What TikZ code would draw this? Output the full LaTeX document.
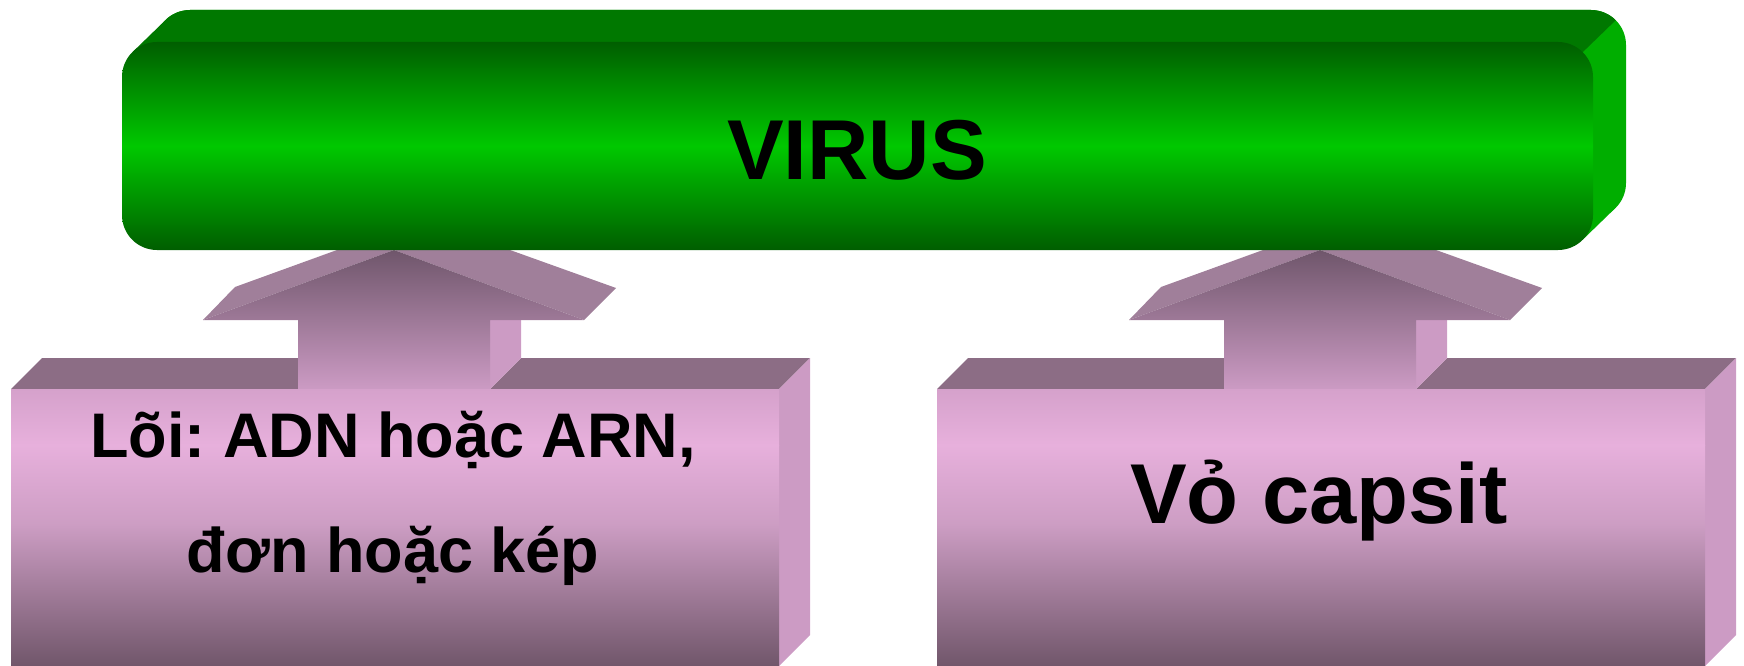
\documentclass[tikz,border=0pt]{standalone}
\usepackage{fontspec}
\setmainfont{Liberation Sans}
\frenchspacing
\definecolor{mauvetop}{HTML}{8C6D85}
\definecolor{mauveslope}{HTML}{A07F9A}
\definecolor{mauveside}{HTML}{CC9BC4}
\definecolor{mauvepale}{HTML}{D5A1CB}
\definecolor{mauvelight}{HTML}{E7B0DC}
\definecolor{mauvemid}{HTML}{CC9DC3}
\definecolor{mauvedark}{HTML}{6E5468}
\definecolor{arrowdark}{HTML}{6F566B}
\definecolor{greendark}{HTML}{005E00}
\definecolor{greenlight}{HTML}{00C800}
\definecolor{greentop}{HTML}{007800}
\definecolor{greenside}{HTML}{00AE00}

\begin{document}
\begin{tikzpicture}[x=1pt,y=-1pt,
	boxtext/.style={font=\bfseries\fontsize{63}{115}\selectfont,align=center,anchor=base,inner sep=0pt},
	bigtext/.style={font=\bfseries\fontsize{85}{100}\selectfont,anchor=base,inner sep=0pt}]
	\useasboundingbox (0,0) rectangle (1744,666);
	\foreach \dx in {0,926}
		{
		\begin{scope}[xshift=\dx]
			\fill[mauvetop](11,389) -- (42,358) -- (298,358) -- (298,389) -- cycle;
			\fill[mauvetop](490,389) -- (521,358) -- (810,358) -- (779,389) -- cycle;
			\fill[mauveside](779,389) -- (810,358) -- (810,635) -- (779,666) -- cycle;
			\fill[mauveside](489,319) -- (521,319) -- (521,358) -- (490,389) -- cycle;
			\fill[mauveslope](203,320) -- (235,287) -- (337,250) -- (394,250) -- cycle;
			\fill[mauveslope](394,250) -- (510,250) -- (616,288) -- (584,320) -- cycle;
			\shade[top color=arrowdark,bottom color=mauveside](203,320) -- (394,250) -- (584,320) -- (490,320) -- (490,389.5) -- (298,389.5) -- (298,320) -- cycle;
			\shade[top color=mauvepale,bottom color=mauvelight](11,389) rectangle (779,445.5);
			\shade[top color=mauvelight,bottom color=mauvemid](11,445) rectangle (779,525.5);
			\shade[top color=mauvemid,bottom color=mauvedark](11,525) rectangle (779,670);
		\end{scope}
		}

	\fill[greenside,rounded corners=35pt](155,10) rectangle (1626,218);
	\begin{scope}
		\clip[rounded corners=35pt](155,10) rectangle (1626,218);
		\fill[greentop](0,0) -- (1636.6,0) -- (1574.6,60) -- (0,60) -- cycle;
	\end{scope}
	\fill[greentop](132.3,52.3) -- (165.3,20.3) -- (200,55) -- (167,87) -- cycle;
	\fill[greenside](1582.7,239.7) -- (1615.7,207.7) -- (1580,172) -- (1547,204) -- cycle;
	\shade[rounded corners=35pt,top color=greendark,bottom color=greendark,middle color=greenlight](122,42) rectangle (1593,250);

	\node[bigtext] (virus) at (857,179) {VIRUS};
	\node[boxtext] (core) at (393,572) {Lõi: ADN hoặc ARN,\\đơn hoặc kép};
	\node[bigtext] (capsid) at (1319,523) {Vỏ capsit};
\end{tikzpicture}
\end{document}
